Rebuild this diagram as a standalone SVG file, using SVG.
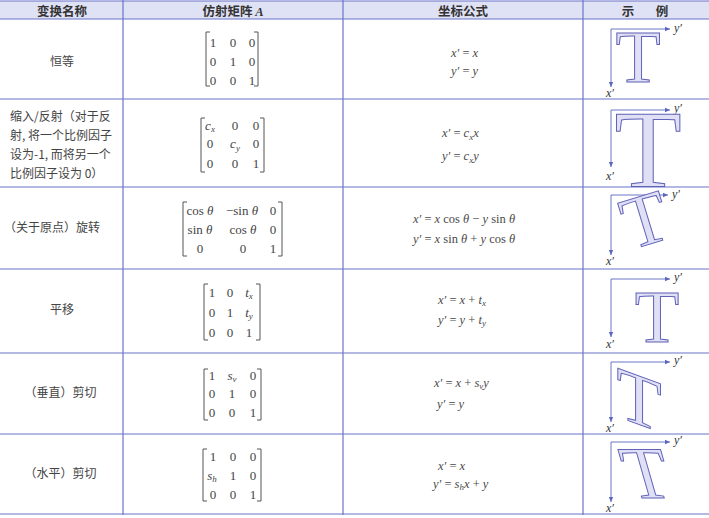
<svg xmlns="http://www.w3.org/2000/svg" width="709" height="518" viewBox="0 0 709 518">
<style>
.hd{font-family:"Noto Sans CJK SC","Liberation Sans",sans-serif;font-size:12.5px;font-weight:bold;fill:#333;text-anchor:middle}
.lbc{font-family:"Noto Sans CJK SC",sans-serif;font-size:12px;fill:#444}
.f{font-family:"Liberation Serif",serif;font-size:12.5px;fill:#4a4a4a}
.m{font-family:"Liberation Serif",serif;font-size:13px;fill:#444;text-anchor:middle}
.i{font-style:italic}
.s{font-style:italic;font-size:9px}
.br{fill:none;stroke:#555;stroke-width:1}
.grid{stroke:#6b74c9;stroke-width:1.2;fill:none}
.ax{stroke:#5a66c0;stroke-width:0.9;fill:none;marker-end:url(#ah)}
.al{font-family:"Liberation Serif",serif;font-size:12px;font-style:italic;fill:#333}
.T{font-family:"Liberation Serif",serif;fill:#dfdff5;stroke:#6262b8;stroke-width:1;text-anchor:middle}
</style>
<defs>
<marker id="ah" markerWidth="6" markerHeight="6" refX="5" refY="3" orient="auto" markerUnits="userSpaceOnUse">
<path d="M0,0.8 L5,3 L0,5.2 Z" fill="#5a66c0"/>
</marker>
</defs>
<rect x="0" y="0" width="709" height="518" fill="#ffffff"/>
<g id="table">
<rect x="0" y="1" width="709" height="18" fill="#dfe1f4"/>
<line class="grid" x1="0" y1="1" x2="709" y2="1" stroke-width="2"/>
<line class="grid" x1="0" y1="19" x2="709" y2="19"/>
<line class="grid" x1="0" y1="99" x2="709" y2="99"/>
<line class="grid" x1="0" y1="187" x2="709" y2="187"/>
<line class="grid" x1="0" y1="269" x2="709" y2="269"/>
<line class="grid" x1="0" y1="353" x2="709" y2="353"/>
<line class="grid" x1="0" y1="434" x2="709" y2="434"/>
<line class="grid" x1="0" y1="514" x2="709" y2="514" stroke-width="2"/>
<line class="grid" x1="123" y1="0" x2="123" y2="515"/>
<line class="grid" x1="343" y1="0" x2="343" y2="515"/>
<line class="grid" x1="583" y1="0" x2="583" y2="515"/>
</g>
<g id="header">
<text class="hd" x="62" y="15.5">变换名称</text>
<text class="hd" x="233" y="15.5">仿射矩阵 <tspan font-family="Liberation Serif" font-style="italic">A</tspan></text>
<text class="hd" x="463" y="15.5">坐标公式</text>
<text class="hd" y="15.5"><tspan x="628">示</tspan><tspan x="662">例</tspan></text>
</g>
<g id="row-identity">
<text class="lbc" x="62" y="65.5" text-anchor="middle">恒等</text>
<path class="br" d="M210,32 H206 V86 H210 M254,32 H258 V86 H254"/>
<text class="m" x="213" y="46.5">1</text><text class="m" x="233" y="46.5">0</text><text class="m" x="252" y="46.5">0</text>
<text class="m" x="213" y="65.5">0</text><text class="m" x="233" y="65.5">1</text><text class="m" x="252" y="65.5">0</text>
<text class="m" x="213" y="84.5">0</text><text class="m" x="233" y="84.5">0</text><text class="m" x="252" y="84.5">1</text>
<text class="f" x="451" y="56.5"><tspan class="i">x′</tspan> = <tspan class="i">x</tspan></text>
<text class="f" x="451" y="75"><tspan class="i">y′</tspan> = <tspan class="i">y</tspan></text>
<line class="ax" x1="611" y1="29" x2="670" y2="29"/>
<line class="ax" x1="611" y1="29" x2="611" y2="87"/>
<text class="al" x="674" y="32">y′</text>
<text class="al" x="606" y="97">x′</text>
<text class="T" x="638" y="82" font-size="74">T</text>
</g>
<g id="row-scale">
<text class="lbc" x="10" y="120.5">缩入/反射（对于反</text>
<text class="lbc" x="10" y="139.5">射, 将一个比例因子</text>
<text class="lbc" x="10" y="158.5">设为-1, 而将另一个</text>
<text class="lbc" x="10" y="177.5">比例因子设为 0）</text>
<path class="br" d="M205,118 H201 V172 H205 M260,118 H264 V172 H260"/>
<text class="m" x="210" y="129.5"><tspan class="i">c</tspan><tspan class="s" dy="2.5">x</tspan></text><text class="m" x="235" y="129.5">0</text><text class="m" x="256" y="129.5">0</text>
<text class="m" x="210" y="148">0</text><text class="m" x="235" y="148"><tspan class="i">c</tspan><tspan class="s" dy="2.5">y</tspan></text><text class="m" x="256" y="148">0</text>
<text class="m" x="210" y="167.5">0</text><text class="m" x="235" y="167.5">0</text><text class="m" x="256" y="167.5">1</text>
<text class="f" x="442" y="137"><tspan class="i">x′</tspan> = <tspan class="i">c</tspan><tspan class="s" dy="2.5">x</tspan><tspan class="i" dy="-2.5">x</tspan></text>
<text class="f" x="442" y="160"><tspan class="i">y′</tspan> = <tspan class="i">c</tspan><tspan class="s" dy="2.5">x</tspan><tspan class="i" dy="-2.5">y</tspan></text>
<line class="ax" x1="611" y1="110" x2="670" y2="110"/>
<line class="ax" x1="611" y1="110" x2="611" y2="167"/>
<text class="al" x="674" y="112">y′</text>
<text class="al" x="606" y="180">x′</text>
<text class="T" x="648" y="187" font-size="110">T</text>
</g>
<g id="row-rotate">
<text class="lbc" x="4" y="232">（关于原点）旋转</text>
<path class="br" d="M187,202 H183 V256 H187 M278,202 H282 V256 H278"/>
<text class="m" x="200" y="214.5">cos <tspan class="i">θ</tspan></text><text class="m" x="242" y="214.5">−sin <tspan class="i">θ</tspan></text><text class="m" x="273" y="214.5">0</text>
<text class="m" x="200" y="233.5">sin <tspan class="i">θ</tspan></text><text class="m" x="243" y="233.5">cos <tspan class="i">θ</tspan></text><text class="m" x="273" y="233.5">0</text>
<text class="m" x="200" y="252.5">0</text><text class="m" x="243" y="252.5">0</text><text class="m" x="273" y="252.5">1</text>
<text class="f" x="413" y="222.5"><tspan class="i">x′</tspan> = <tspan class="i">x</tspan> cos <tspan class="i">θ</tspan> − <tspan class="i">y</tspan> sin <tspan class="i">θ</tspan></text>
<text class="f" x="413" y="242.5"><tspan class="i">y′</tspan> = <tspan class="i">x</tspan> sin <tspan class="i">θ</tspan> + <tspan class="i">y</tspan> cos <tspan class="i">θ</tspan></text>
<line class="ax" x1="611" y1="195" x2="668" y2="195"/>
<line class="ax" x1="611" y1="195" x2="611" y2="255"/>
<text class="al" x="672" y="198">y′</text>
<text class="al" x="606" y="265">x′</text>
<text class="T" transform="translate(645,220) rotate(-17)" x="0" y="24.5" font-size="74">T</text>
</g>
<g id="row-translate">
<text class="lbc" x="62" y="314" text-anchor="middle">平移</text>
<path class="br" d="M208,284 H204 V340 H208 M256,284 H260 V340 H256"/>
<text class="m" x="212" y="296.5">1</text><text class="m" x="230" y="296.5">0</text><text class="m" x="249" y="296.5"><tspan class="i">t</tspan><tspan class="s" dy="2.5">x</tspan></text>
<text class="m" x="212" y="316.5">0</text><text class="m" x="230" y="316.5">1</text><text class="m" x="249" y="316.5"><tspan class="i">t</tspan><tspan class="s" dy="2.5">y</tspan></text>
<text class="m" x="212" y="336.5">0</text><text class="m" x="230" y="336.5">0</text><text class="m" x="249" y="336.5">1</text>
<text class="f" x="438" y="303.5"><tspan class="i">x′</tspan> = <tspan class="i">x</tspan> + <tspan class="i">t</tspan><tspan class="s" dy="2.5">x</tspan></text>
<text class="f" x="438" y="323.5"><tspan class="i">y′</tspan> = <tspan class="i">y</tspan> + <tspan class="i">t</tspan><tspan class="s" dy="2.5">y</tspan></text>
<line class="ax" x1="611" y1="279" x2="670" y2="279"/>
<line class="ax" x1="611" y1="279" x2="611" y2="337"/>
<text class="al" x="674" y="281">y′</text>
<text class="al" x="606" y="348">x′</text>
<text class="T" x="657" y="342" font-size="73">T</text>
</g>
<g id="row-shear-v">
<text class="lbc" x="60.5" y="397" text-anchor="middle">（垂直）剪切</text>
<path class="br" d="M208,369 H204 V420 H208 M257,369 H261 V420 H257"/>
<text class="m" x="212" y="379.5">1</text><text class="m" x="232" y="379.5"><tspan class="i">s</tspan><tspan class="s" dy="2.5">v</tspan></text><text class="m" x="253" y="379.5">0</text>
<text class="m" x="212" y="397.5">0</text><text class="m" x="232" y="397.5">1</text><text class="m" x="253" y="397.5">0</text>
<text class="m" x="212" y="416.5">0</text><text class="m" x="232" y="416.5">0</text><text class="m" x="253" y="416.5">1</text>
<text class="f" x="434" y="386.5"><tspan class="i">x′</tspan> = <tspan class="i">x</tspan> + <tspan class="i">s</tspan><tspan class="s" dy="2.5">v</tspan><tspan class="i" dy="-2.5">y</tspan></text>
<text class="f" x="437" y="407.5"><tspan class="i">y′</tspan> = <tspan class="i">y</tspan></text>
<line class="ax" x1="611" y1="362" x2="670" y2="362"/>
<line class="ax" x1="611" y1="362" x2="611" y2="422"/>
<text class="al" x="674" y="364">y′</text>
<text class="al" x="606" y="432">x′</text>
<text class="T" transform="translate(639,400) skewY(20)" x="0" y="24.5" font-size="74">T</text>
</g>
<g id="row-shear-h">
<text class="lbc" x="60.5" y="478" text-anchor="middle">（水平）剪切</text>
<path class="br" d="M207,449 H203 V501 H207 M257,449 H261 V501 H257"/>
<text class="m" x="213" y="460.5">1</text><text class="m" x="233" y="460.5">0</text><text class="m" x="253" y="460.5">0</text>
<text class="m" x="212" y="479.5"><tspan class="i">s</tspan><tspan class="s" dy="2.5">h</tspan></text><text class="m" x="233" y="479.5">1</text><text class="m" x="253" y="479.5">0</text>
<text class="m" x="213" y="498.5">0</text><text class="m" x="233" y="498.5">0</text><text class="m" x="253" y="498.5">1</text>
<text class="f" x="438" y="469.5"><tspan class="i">x′</tspan> = <tspan class="i">x</tspan></text>
<text class="f" x="433" y="487.5"><tspan class="i">y′</tspan> = <tspan class="i">s</tspan><tspan class="s" dy="2.5">h</tspan><tspan class="i" dy="-2.5">x</tspan> + <tspan class="i">y</tspan></text>
<line class="ax" x1="611" y1="442" x2="670" y2="442"/>
<line class="ax" x1="611" y1="442" x2="611" y2="502"/>
<text class="al" x="674" y="444">y′</text>
<text class="al" x="606" y="512">x′</text>
<text class="T" transform="translate(646,473.5) skewX(16)" x="0" y="24.5" font-size="74">T</text>
</g>
</svg>
